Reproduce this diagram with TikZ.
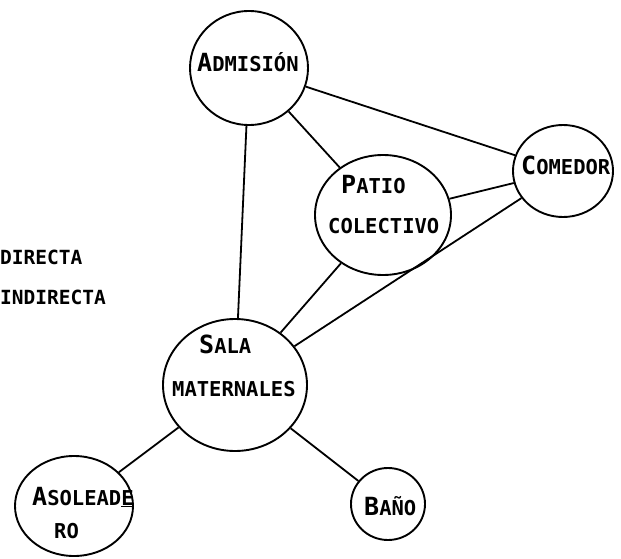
\documentclass[tikz,border=0pt]{standalone}
\usepackage{fontspec}
\newfontfamily\tw{DejaVu Sans Mono}
\usetikzlibrary{shapes.geometric}
\newcommand\capt[2]{{\fontsize{25}{25}\selectfont #1}{\fontsize{20.5}{20}\selectfont #2}}
\tikzset{
  room/.style={draw, ellipse, line width=1.9pt, inner sep=0pt},
  link/.style={line width=1.8pt},
  lbl/.style={font=\tw\bfseries, inner sep=0pt, anchor=base west},
  legend/.style={font=\tw\bfseries\fontsize{19.5}{19}\selectfont, inner sep=0pt, anchor=base west}
}
\begin{document}
\begin{tikzpicture}[x=1pt,y=-1pt]
\useasboundingbox (0,0) rectangle (621,559);
\clip (0,0) rectangle (621,559);
\fill[white] (0,0) rectangle (621,559);
% rooms
\node[room, minimum width=118pt, minimum height=114pt] (adm) at (249,68) {};
\node[room, minimum width=136pt, minimum height=120pt] (pat) at (383,215) {};
\node[room, minimum width=100pt, minimum height=92pt] (com) at (563,171) {};
\node[room, minimum width=144pt, minimum height=132pt] (sal) at (235,385) {};
\node[room, minimum width=118pt, minimum height=100pt] (aso) at (74,506) {};
\node[room, minimum width=74pt, minimum height=72pt] (ban) at (388,504) {};
% labels
\node[lbl] (ladm) at (197,72) {\capt{A}{DMISIÓN}};
\node[lbl] (lpat1) at (341,193) {\capt{P}{ATIO}};
\node[lbl] (lpat2) at (328,233) {\capt{}{COLECTIVO}};
\node[lbl] (lcom) at (521,175) {\capt{C}{OMEDOR}};
\node[lbl] (lsal1) at (199,353) {\capt{S}{ALA}};
\node[lbl] (lsal2) at (172,396) {\capt{}{MATERNALES}};
\node[lbl] (laso1) at (32,505) {\capt{A}{SOLEAD\underline{E}}};
\node[lbl] (laso2) at (54,538) {\capt{}{RO}};
\node[lbl] (lban) at (364,515) {\capt{B}{AÑO}};
% legend
\node[legend] (dir) at (0,264) {DIRECTA};
\node[legend] (ind) at (0,304) {INDIRECTA};
% connectors
\draw[link] (adm) -- (pat);
\draw[link] (adm) -- (com);
\draw[link] (adm) -- (sal);
\draw[link] (pat) -- (com);
\draw[link] (pat) -- (sal);
\draw[link] (com) -- (sal);
\draw[link] (sal) -- (aso);
\draw[link] (sal) -- (ban);
\end{tikzpicture}
\end{document}
